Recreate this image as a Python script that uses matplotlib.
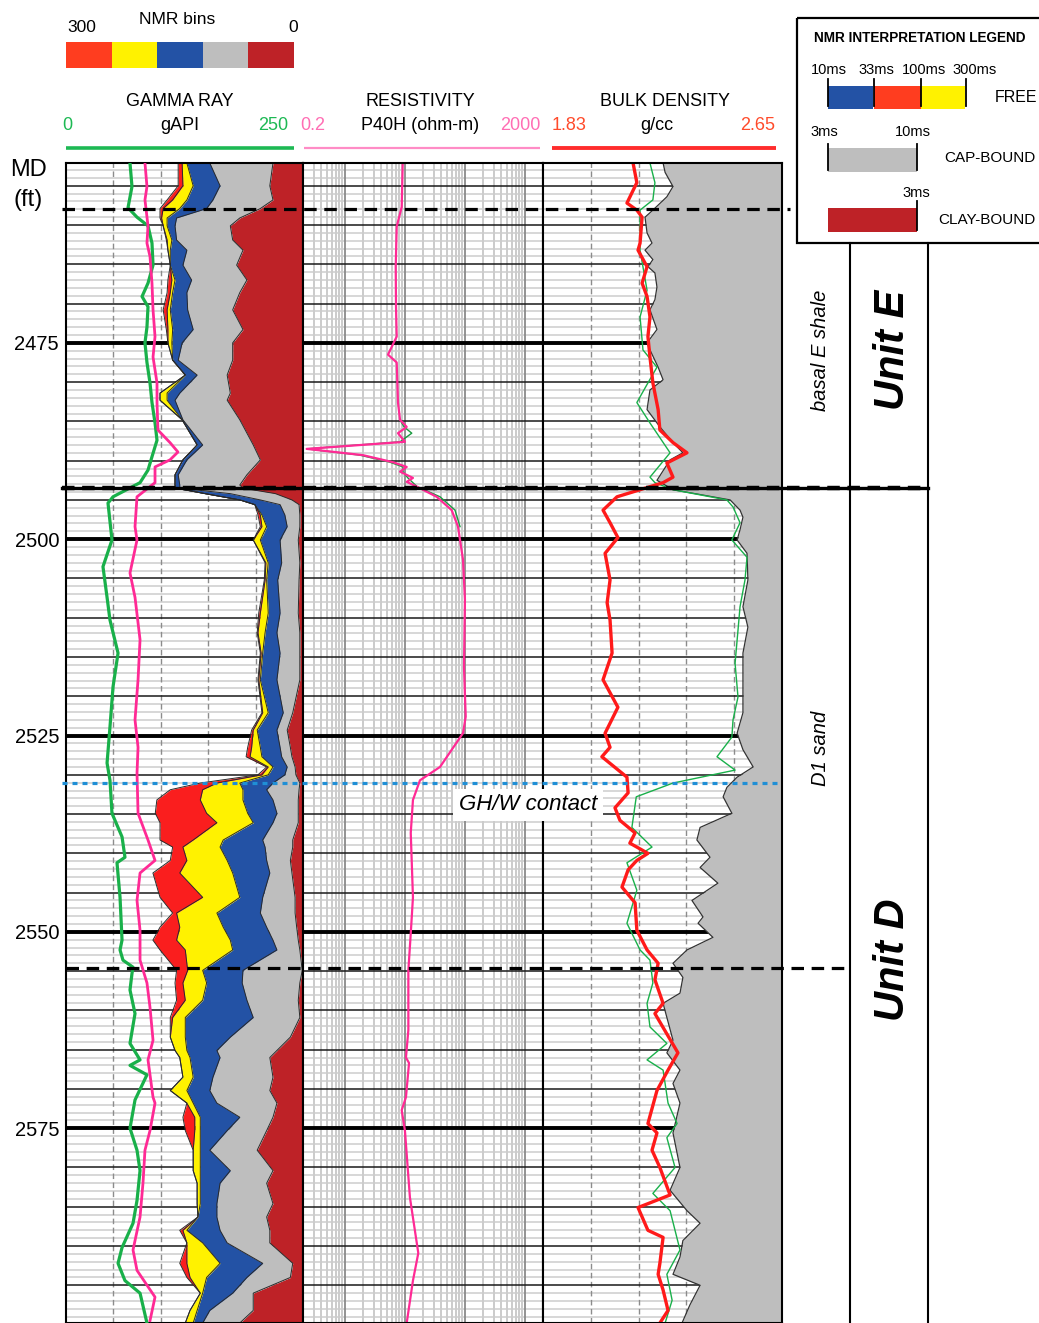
import matplotlib
matplotlib.use('Agg')
import matplotlib.pyplot as plt
from matplotlib.transforms import blended_transform_factory
from matplotlib.lines import Line2D
from matplotlib.patches import Rectangle
from matplotlib import font_manager

plt.rcParams['lines.scale_dashes'] = False
plt.rcParams['font.family'] = ['Liberation Sans', 'DejaVu Sans']
_names = {f.name for f in font_manager.fontManager.ttflist}
HAS_NARROW = 'Liberation Sans Narrow' in _names
NARROW = ['Liberation Sans Narrow', 'Liberation Sans'] if HAS_NARROW else ['Liberation Sans']

# ---------------- data ----------------
TOP_DEPTH, BOT_DEPTH = 2452.1, 2599.8
DEPTH_TICKS = [2475, 2500, 2525, 2550, 2575]
TOP_E_SHALE = 2457.9
TOP_D_UNIT = 2493.5
BASE_D1 = 2554.6
GHW_CONTACT = 2531.05

GR_DEPTH = [2452.1, 2455.1, 2457.8, 2459.0, 2460.1, 2462.3, 2465.1, 2467.4, 2469.1, 2470.4, 2473.0, 2475.0,
            2477.5, 2480.1, 2482.6, 2485.2, 2487.4, 2489.5, 2491.2, 2492.8, 2494.6, 2495.4, 2500.1, 2503.5,
            2507.4, 2510.3, 2514.5, 2518.8, 2523.9, 2528.5, 2530.7, 2534.9, 2537.9, 2540.5, 2541.2, 2545.6,
            2551.05, 2552.3, 2553.6, 2554.5, 2555.3, 2557.4, 2560.4, 2564.2, 2566.3, 2567.0, 2568.2, 2571.4,
            2575.0, 2577.8, 2580.4, 2584.2, 2587.1, 2590.2, 2592.2, 2594.4, 2596.0, 2599.8]
GR = [67.5, 69.6, 65.4, 74.9, 86.5, 90.7, 91.8, 86.5, 80.2, 86.5, 85.4, 83.3,
      85.4, 88.6, 90.7, 93.9, 96.0, 90.7, 86.5, 78.1, 49.6, 44.3, 48.5, 39.0,
      43.3, 46.4, 54.9, 49.6, 46.4, 43.3, 46.4, 48.5, 59.1, 62.2, 53.8, 57.0,
      59.1, 57.0, 60.1, 70.7, 69.6, 67.5, 72.8, 67.5, 78.1, 67.5, 85.4, 72.8,
      67.5, 74.9, 78.1, 74.9, 70.7, 59.1, 54.9, 62.2, 78.1, 85.4]

PINK_DEPTH = [2452.1, 2455.1, 2456.8, 2460.1, 2462.3, 2464.0, 2467.4, 2470.8, 2474.2, 2476.8, 2480.1, 2482.6,
              2486.1, 2487.7, 2488.9, 2489.9, 2490.8, 2492.8, 2494.6, 2498.4, 2500.1, 2504.3, 2507.4, 2512.8,
              2517.9, 2523.0, 2526.5, 2529.8, 2534.9, 2538.3, 2540.9, 2542.5, 2546.0, 2549.8, 2553.6, 2556.5,
              2559.6, 2563.8, 2566.3, 2571.05, 2571.8, 2575.3, 2577.8, 2582.0, 2586.3, 2590.5, 2593.1, 2596.5,
              2599.5]
PINK = [83.3, 85.4, 83.3, 86.5, 85.4, 88.6, 90.7, 91.8, 93.9, 91.8, 96.0, 96.0,
        97.0, 109.7, 118.1, 109.7, 93.9, 93.9, 74.9, 72.8, 74.9, 67.5, 72.8, 78.1,
        76.0, 72.8, 76.0, 74.9, 76.0, 86.5, 93.9, 78.1, 74.9, 78.1, 78.1, 85.4,
        88.6, 91.8, 86.5, 91.8, 93.9, 88.6, 83.3, 81.2, 78.1, 70.7, 74.9, 93.9,
        88.6]

NMR_DEPTH = [2452.1, 2455.0, 2456.8, 2457.9, 2459.1, 2460.1, 2461.9, 2463.2, 2465.1, 2467.0,
             2468.6, 2470.8, 2473.3, 2475.0, 2477.2, 2479.1, 2481.4, 2482.3, 2484.8, 2488.0,
             2489.9, 2491.8, 2493.1, 2493.5, 2494.2, 2495.0, 2495.6, 2496.9, 2498.4, 2500.1,
             2503.0, 2505.2, 2509.4, 2511.9, 2514.5, 2517.9, 2522.1, 2524.3, 2526.5, 2527.7,
             2529.0, 2530.0, 2531.05, 2531.9, 2533.2, 2534.9, 2536.1, 2538.3, 2539.2, 2540.9,
             2542.5, 2545.6, 2547.6, 2549.4, 2551.05, 2552.3, 2554.9, 2556.5, 2558.7, 2560.9,
             2563.4, 2565.1, 2566.0, 2568.5, 2570.2, 2571.8, 2573.6, 2575.3, 2577.8, 2580.4,
             2582.0, 2584.6, 2586.3, 2588.0, 2589.6, 2592.2, 2594.0, 2596.0, 2598.2, 2599.8]
# cumulative NMR bins (scale 300 -> 0, right to left)
NMR_CLAY = [38, 42, 38, 54, 80, 92, 89, 76, 84, 71, 80, 89, 76, 89, 89, 96, 92, 96, 80, 63,
            54, 71, 80, 76, 35, 14, 5, 4, 4, 6, 4, 5, 6, 4, 4, 4, 13, 20, 16, 14,
            10, 9, 4, 5, 6, 6, 6, 13, 13, 16, 14, 10, 10, 8, 6, 4, 1, 4, 6, 4,
            16, 33, 42, 38, 42, 33, 38, 46, 58, 38, 46, 38, 46, 42, 42, 13, 16, 63, 63, 80]
NMR_CAP = [118, 105, 114, 122, 160, 162, 160, 147, 152, 141, 147, 146, 139, 153, 158, 134, 156, 162, 152, 127,
           147, 158, 156, 156, 92, 54, 29, 23, 20, 29, 27, 32, 29, 33, 29, 33, 25, 33, 29, 27,
           20, 23, 38, 46, 38, 33, 38, 51, 48, 46, 42, 51, 54, 46, 38, 33, 76, 77, 71, 63,
           92, 109, 105, 114, 118, 109, 80, 96, 118, 92, 105, 109, 109, 105, 96, 51, 71, 89, 118, 127]
NMR_BLUE = [147, 139, 147, 156, 172, 172, 166, 168, 168, 162, 165, 168, 165, 166, 165, 149, 172, 172, 153, 134,
            152, 162, 162, 161, 124, 80, 61, 52, 46, 54, 44, 46, 44, 48, 51, 54, 44, 58, 54, 52,
            38, 44, 80, 76, 76, 70, 63, 101, 105, 96, 89, 80, 109, 101, 92, 89, 127, 122, 127, 149,
            149, 147, 143, 139, 147, 139, 130, 130, 130, 130, 130, 130, 133, 147, 127, 105, 122, 127, 134, 139]
NMR_YELLOW = [153, 152, 165, 177, 179, 177, 172, 171, 168, 166, 168, 172, 171, 171, 165, 149, 181, 181, 153, 134,
              152, 162, 162, 161, 124, 80, 61, 54, 52, 63, 47, 48, 54, 57, 53, 56, 51, 63, 65, 67,
              44, 52, 109, 127, 130, 122, 109, 139, 152, 147, 156, 127, 160, 156, 160, 149, 146, 152, 149, 165,
              168, 162, 156, 152, 168, 147, 137, 137, 139, 139, 134, 134, 133, 152, 147, 147, 143, 130, 143, 149]
NMR_RED = [158, 158, 172, 181, 181, 177, 173, 171, 168, 171, 172, 177, 173, 171, 165, 149, 181, 181, 153, 134,
           152, 162, 162, 161, 124, 80, 61, 57, 54, 63, 48, 49, 56, 58, 54, 57, 52, 65, 70, 72,
           46, 57, 130, 168, 185, 187, 181, 181, 165, 168, 190, 181, 165, 181, 190, 181, 160, 162, 160, 168,
           168, 162, 156, 152, 168, 147, 152, 149, 139, 139, 134, 134, 133, 156, 147, 156, 147, 130, 143, 149]

RES_DEPTH = [2452.1, 2457.7, 2460.2, 2465.3, 2470.4, 2474.2, 2476.5, 2477.5, 2482.6, 2484.8, 2485.7, 2486.5,
             2487.6, 2488.5, 2489.3, 2490.2, 2490.8, 2491.4, 2492.2, 2492.7, 2493.3, 2494.6, 2496.3, 2498.4,
             2500.1, 2502.6, 2507.7, 2516.3, 2522.6, 2524.7, 2529.0, 2530.7, 2533.2, 2537.4, 2541.2, 2545.6,
             2550.2, 2554.9, 2562.5, 2566.0, 2566.7, 2571.05, 2572.7, 2575.3, 2583.8, 2590.9, 2594.4, 2599.8]
RES = [9.18, 8.83, 7.29, 7.02, 7.1, 7.29, 5.22, 7.29, 7.66, 8.28, 10.7, 7.66,
       10.0, 0.23, 2.0, 6.32, 10.7, 8.28, 13.6, 10.7, 15.7, 33.8, 60.1, 76.6,
       82.8, 92.8, 100.0, 96.4, 103.0, 92.8, 38.4, 17.8, 13.6, 12.5, 13.0, 13.6,
       12.5, 11.4, 11.4, 10.4, 11.7, 10.4, 8.83, 10.0, 12.1, 16.7, 13.6, 10.7]
RES_ALT_DEPTH = [2484.8, 2485.7, 2486.5, 2487.6, 2488.5, 2489.3, 2490.2, 2490.8, 2491.4, 2492.2, 2493.3,
                 2494.6, 2496.3, 2498.4]
RES_ALT = [8.28, 9.64, 13.0, 8.28, 0.233, 1.78, 5.64, 9.28, 9.28, 11.2, 15.9, 38.4, 68.3, 82.8]

RHOB_DEPTH = [2452.1, 2454.6, 2457.2, 2458.1, 2459.0, 2462.3, 2463.2, 2465.3, 2467.4, 2469.1, 2471.7, 2474.2,
              2476.8, 2480.1, 2483.5, 2486.1, 2487.7, 2489.0, 2490.3, 2492.1, 2492.8, 2493.7, 2494.6, 2496.3,
              2497.9, 2499.8, 2501.8, 2505.2, 2508.1, 2510.3, 2514.5, 2517.9, 2521.4, 2524.7, 2526.5, 2527.7,
              2530.3, 2532.3, 2534.2, 2535.8, 2537.4, 2538.7, 2540.0, 2540.9, 2542.1, 2544.3, 2546.3, 2549.8,
              2552.3, 2554.0, 2556.1, 2559.1, 2560.4, 2565.4, 2567.6, 2570.2, 2574.4, 2575.6, 2577.8, 2580.0,
              2583.5, 2585.1, 2588.0, 2588.9, 2592.2, 2593.6, 2595.6, 2598.2, 2599.8]
RHOB = [2.139, 2.152, 2.118, 2.152, 2.170, 2.163, 2.156, 2.187, 2.170, 2.187, 2.197, 2.190,
        2.197, 2.207, 2.225, 2.231, 2.276, 2.324, 2.255, 2.276, 2.242, 2.163, 2.084, 2.036,
        2.060, 2.087, 2.043, 2.060, 2.050, 2.060, 2.067, 2.036, 2.087, 2.043, 2.060, 2.032,
        2.118, 2.122, 2.077, 2.094, 2.146, 2.128, 2.190, 2.152, 2.122, 2.101, 2.146, 2.152,
        2.187, 2.225, 2.214, 2.242, 2.214, 2.293, 2.259, 2.221, 2.190, 2.221, 2.204, 2.231,
        2.266, 2.156, 2.190, 2.242, 2.231, 2.225, 2.242, 2.259, 2.231]

DEN2_DEPTH = [2452.1, 2454.6, 2456.8, 2458.1, 2463.2, 2468.3, 2471.7, 2475.9, 2478.1, 2480.1, 2482.6, 2485.2,
              2489.0, 2492.1, 2492.8, 2493.7, 2495.0, 2495.9, 2497.9, 2500.1, 2502.3, 2505.2, 2508.6, 2511.6,
              2515.8, 2520.1, 2523.0, 2525.2, 2527.7, 2529.4, 2531.05, 2532.8, 2536.7, 2539.2, 2541.2, 2544.7,
              2548.9, 2552.3, 2553.6, 2556.5, 2559.1, 2562.1, 2564.2, 2566.3, 2567.6, 2571.8, 2574.4, 2576.2,
              2580.0, 2583.3, 2585.5, 2590.5, 2593.6, 2596.9, 2599.8]
DEN2 = [2.197, 2.214, 2.207, 2.163, 2.163, 2.187, 2.163, 2.173, 2.221, 2.190, 2.152, 2.197,
        2.266, 2.197, 2.214, 2.276, 2.461, 2.482, 2.506, 2.478, 2.530, 2.523, 2.506, 2.499,
        2.489, 2.499, 2.482, 2.478, 2.427, 2.489, 2.276, 2.150, 2.135, 2.204, 2.118, 2.152,
        2.118, 2.163, 2.197, 2.207, 2.187, 2.197, 2.255, 2.187, 2.242, 2.259, 2.290, 2.255,
        2.283, 2.207, 2.266, 2.300, 2.255, 2.273, 2.249]

DEN3_DEPTH = [2452.1, 2453.3, 2455.1, 2456.4, 2458.1, 2459.0, 2461.0, 2462.3, 2463.2, 2464.4, 2465.3, 2466.1,
              2467.9, 2469.5, 2470.8, 2473.3, 2475.0, 2475.9, 2478.1, 2479.7, 2481.0, 2483.5, 2485.7, 2487.7,
              2489.0, 2489.9, 2492.5, 2493.7, 2495.0, 2496.3, 2497.2, 2498.8, 2500.1, 2501.8, 2505.2, 2508.6,
              2511.2, 2514.5, 2517.9, 2522.1, 2524.7, 2526.8, 2529.0, 2530.3, 2531.6, 2532.8, 2534.9, 2536.7,
              2538.3, 2540.5, 2541.8, 2543.8, 2546.0, 2548.1, 2548.9, 2550.7, 2552.3, 2554.0, 2555.8, 2557.8,
              2559.1, 2560.9, 2563.8, 2565.4, 2567.6, 2569.3, 2571.8, 2575.6, 2580.0, 2582.9, 2585.5, 2587.1,
              2589.3, 2591.4, 2593.6, 2595.0, 2597.5, 2599.8]
DEN3 = [2.242, 2.249, 2.276, 2.255, 2.207, 2.180, 2.187, 2.204, 2.180, 2.207, 2.190, 2.214,
        2.221, 2.214, 2.197, 2.221, 2.187, 2.197, 2.225, 2.242, 2.197, 2.187, 2.231, 2.276,
        2.310, 2.266, 2.221, 2.276, 2.472, 2.506, 2.516, 2.506, 2.496, 2.530, 2.533, 2.516,
        2.533, 2.516, 2.516, 2.516, 2.496, 2.516, 2.551, 2.496, 2.461, 2.448, 2.478, 2.369,
        2.358, 2.403, 2.369, 2.430, 2.341, 2.379, 2.362, 2.413, 2.324, 2.276, 2.310, 2.300,
        2.242, 2.255, 2.276, 2.255, 2.300, 2.276, 2.300, 2.276, 2.300, 2.266, 2.324, 2.369,
        2.310, 2.300, 2.276, 2.369, 2.334, 2.307]

GR_RANGE = (0, 250)
NMR_RANGE = (300, 0)
RES_RANGE = (0.2, 2000)
DEN_RANGE = (1.83, 2.65)

C_RED_BAR = '#FF3D1F'
C_RED = '#FA1E1E'
C_YELLOW = '#FFF200'
C_BLUE = '#2352A5'
C_GRAY = '#BEBEBE'
C_DARKRED = '#BE2227'
C_GREEN = '#19B04A'
C_PINK = '#FF2A95'

# ---------------- figure ----------------
W, H = 1039, 1323
fig = plt.figure(figsize=(W / 100, H / 100), dpi=100)


def frect(x0, x1, y0, y1):
    return [x0 / W, 1 - y1 / H, (x1 - x0) / W, (y1 - y0) / H]


ax1 = fig.add_axes(frect(66, 303, 163, 1323))
ax2 = fig.add_axes(frect(303, 543, 163, 1323))
ax3 = fig.add_axes(frect(543, 782, 163, 1323))


def depth_grid(ax):
    for d in range(2453, 2600):
        if d % 25 == 0:
            ax.axhline(d, color='k', lw=2.8, zorder=1.2)
        elif d % 5 == 0:
            ax.axhline(d, color='#1a1a1a', lw=1.1, zorder=1.1)
        else:
            ax.axhline(d, color='#cdcdcd', lw=1.1, zorder=0.8)


for ax in (ax1, ax2, ax3):
    ax.set_ylim(BOT_DEPTH, TOP_DEPTH)
    for s in ax.spines.values():
        s.set_linewidth(1.5)
        s.set_zorder(10)
    ax.set_xticks([])
    depth_grid(ax)
for ax in (ax2, ax3):
    ax.set_yticks([])
    ax.tick_params(left=False, labelleft=False)

# Track 1 : NMR (base) + GR (twin)
ax1.set_xlim(*NMR_RANGE)
for f in (0.2, 0.4, 0.6, 0.8):
    ax1.plot([f, f], [0, 1], transform=ax1.transAxes, color='#8c8c8c', lw=1.0,
             dashes=(4, 2.5), zorder=0.9)
ax1.set_yticks(DEPTH_TICKS)
ax1.set_yticklabels([str(d) for d in DEPTH_TICKS])
ax1.tick_params(axis='y', length=0, pad=5, labelsize=14.5)

layers = [(0, NMR_CLAY, C_DARKRED), (NMR_CLAY, NMR_CAP, C_GRAY), (NMR_CAP, NMR_BLUE, C_BLUE),
          (NMR_BLUE, NMR_YELLOW, C_YELLOW), (NMR_YELLOW, NMR_RED, C_RED)]
for lo, hi, col in layers:
    ax1.fill_betweenx(NMR_DEPTH, lo, hi, color=col, lw=0, zorder=2)
for cur in (NMR_CLAY, NMR_CAP, NMR_BLUE, NMR_YELLOW, NMR_RED):
    ax1.plot(cur, NMR_DEPTH, color='#2a2a2a', lw=0.7, zorder=3)

ax1g = ax1.twiny()
ax1g.set_xlim(*GR_RANGE)
ax1g.set_xticks([])
for s in ax1g.spines.values():
    s.set_visible(False)
ax1g.plot(GR, GR_DEPTH, color=C_GREEN, lw=2.3, zorder=5)
ax1g.plot(PINK, PINK_DEPTH, color=C_PINK, lw=2.0, zorder=5)

# Track 2 : resistivity (log)
ax2.set_xscale('log')
ax2.set_xlim(*RES_RANGE)
ax2.set_xticks([])
ax2.xaxis.set_minor_locator(matplotlib.ticker.NullLocator())
for dec in (0.1, 1, 10, 100, 1000):
    for k in range(1, 10):
        v = k * dec
        if v < 0.2 * 1.0001 or v > 2000 * 0.9999:
            continue
        if k == 1:
            ax2.axvline(v, color='#8a8a8a', lw=1.3, zorder=0.9)
        else:
            ax2.axvline(v, color='#bdbdbd', lw=1.1, zorder=0.7)
ax2.plot(RES_ALT, RES_ALT_DEPTH, color='#1a9a40', lw=1.0, zorder=4)
ax2.plot(RES, RES_DEPTH, color=C_PINK, lw=1.6, zorder=5)

# Track 3 : density
ax3.set_xlim(*DEN_RANGE)
step = (DEN_RANGE[1] - DEN_RANGE[0]) / 5
for k in range(1, 5):
    ax3.axvline(DEN_RANGE[0] + k * step, color='#8c8c8c', lw=1.0, dashes=(4, 2.5), zorder=0.9)
ax3.fill_betweenx(DEN3_DEPTH, DEN3, DEN_RANGE[1], color=C_GRAY, lw=0, zorder=2)
ax3.plot(DEN3, DEN3_DEPTH, color='#333333', lw=0.9, zorder=3)
ax3.plot(DEN2, DEN2_DEPTH, color=C_GREEN, lw=1.0, zorder=4)
ax3.plot(RHOB, RHOB_DEPTH, color='#FF1A1A', lw=2.4, zorder=5)

# ---------------- marker lines ----------------
tr = blended_transform_factory(fig.transFigure, ax1.transData)
fig.add_artist(Line2D([62 / W, 790 / W], [TOP_E_SHALE] * 2, transform=tr, color='k', lw=2.3,
                      dashes=(9, 5.5), zorder=3))
fig.add_artist(Line2D([62 / W, 928 / W], [TOP_D_UNIT] * 2, transform=tr, color='k', lw=2.4, zorder=3))
fig.add_artist(Line2D([62 / W, 928 / W], [TOP_D_UNIT] * 2, transform=tr, color='k', lw=3.2,
                      dashes=(9, 5.5), zorder=3))
fig.add_artist(Line2D([66 / W, 850 / W], [BASE_D1] * 2, transform=tr, color='k', lw=2.3,
                      dashes=(9, 5.5), zorder=3))
fig.add_artist(Line2D([62 / W, 782 / W], [GHW_CONTACT] * 2, transform=tr, color='#1F8FD6', lw=2.3,
                      dashes=(3.6, 3.6), zorder=3))

# ---------------- overlay (header, legend, columns) ----------------
ov = fig.add_axes([0, 0, 1, 1], zorder=5)
ov.set_xlim(0, W)
ov.set_ylim(H, 0)
ov.axis('off')
ov.patch.set_visible(False)

# NMR bins colour bar
bar_cols = [C_RED_BAR, C_YELLOW, C_BLUE, C_GRAY, C_DARKRED]
bw = (294 - 66) / 5
for i, c in enumerate(bar_cols):
    ov.add_patch(Rectangle((66 + i * bw, 42), bw, 26, color=c, lw=0))
ov.text(82, 28, '300', ha='center', va='center', fontsize=12.5)
ov.text(177, 20, 'NMR bins', ha='center', va='center', fontsize=12.5)
ov.text(293, 28, '0', ha='center', va='center', fontsize=12.5)

HF = 13
ov.text(180, 101, 'GAMMA RAY', ha='center', va='center', fontsize=HF)
ov.text(67, 125, '0', ha='center', va='center', fontsize=HF, color='#1DB954')
ov.text(180, 125, 'gAPI', ha='center', va='center', fontsize=HF)
ov.text(273, 125, '250', ha='center', va='center', fontsize=HF, color='#1DB954')
ov.plot([66, 294], [148, 148], color='#1DB954', lw=2.6, solid_capstyle='butt')

ov.text(420, 101, 'RESISTIVITY', ha='center', va='center', fontsize=HF)
ov.text(313, 125, '0.2', ha='center', va='center', fontsize=HF, color='#FF6EB4')
ov.text(420, 125, 'P40H (ohm-m)', ha='center', va='center', fontsize=HF)
ov.text(520, 125, '2000', ha='center', va='center', fontsize=HF, color='#FF6EB4')
ov.plot([304, 540], [148, 148], color='#FF8CC6', lw=1.6, solid_capstyle='butt')

ov.text(665, 101, 'BULK DENSITY', ha='center', va='center', fontsize=HF)
ov.text(569, 125, '1.83', ha='center', va='center', fontsize=HF, color='#FF4B2B')
ov.text(657, 125, 'g/cc', ha='center', va='center', fontsize=HF)
ov.text(758, 125, '2.65', ha='center', va='center', fontsize=HF, color='#FF4B2B')
ov.plot([552, 776], [148, 148], color='#FF2D2D', lw=2.8, solid_capstyle='butt')

ov.text(28, 170, 'MD', ha='center', va='center', fontsize=17)
ov.text(28, 200, '(ft)', ha='center', va='center', fontsize=17)

# Legend box
ov.add_patch(Rectangle((797, 18), 260, 225, fill=False, ec='k', lw=1.6))
ov.text(814, 38, 'NMR INTERPRETATION LEGEND', ha='left', va='center', fontsize=11.5 if HAS_NARROW else 9.8,
        fontweight='bold', family=NARROW)
LF = 10.5
for x, s in zip([829, 876, 924, 975], ['10ms', '33ms', '100ms', '300ms']):
    ov.text(x, 70, s, ha='center', va='center', fontsize=LF)
ov.add_patch(Rectangle((828, 86), 45, 23, color=C_BLUE, lw=0))
ov.add_patch(Rectangle((874, 86), 47, 23, color=C_RED_BAR, lw=0))
ov.add_patch(Rectangle((921, 86), 44, 23, color=C_YELLOW, lw=0))
for x in [828, 874, 921, 966]:
    ov.plot([x, x], [79, 106], color='k', lw=1.3)
ov.text(1016, 97, 'FREE', ha='center', va='center', fontsize=11.5)

ov.text(824, 132, '3ms', ha='center', va='center', fontsize=LF)
ov.text(913, 132, '10ms', ha='center', va='center', fontsize=LF)
ov.add_patch(Rectangle((828, 148), 89, 24, color=C_GRAY, lw=0))
for x in [828, 917]:
    ov.plot([x, x], [144, 170], color='k', lw=1.3)
ov.text(990, 158, 'CAP-BOUND', ha='center', va='center', fontsize=11)

ov.text(916, 193, '3ms', ha='center', va='center', fontsize=LF)
ov.add_patch(Rectangle((828, 208), 89, 24, color=C_DARKRED, lw=0))
ov.plot([917, 917], [201, 230], color='k', lw=1.3)
ov.text(987, 220, 'CLAY-BOUND', ha='center', va='center', fontsize=11)

# zone columns
ov.plot([850, 850], [243, H], color='k', lw=1.5)
ov.plot([928, 928], [243, H], color='k', lw=1.5)
ZS = 17 if HAS_NARROW else 14.5
US = 36 if HAS_NARROW else 30
ov.text(820, 350, 'basal E shale', rotation=90, ha='center', va='center', fontsize=ZS,
        style='italic', family=NARROW)
ov.text(820, 748, 'D1 sand', rotation=90, ha='center', va='center', fontsize=ZS,
        style='italic', family=NARROW)
ov.text(893, 350, 'Unit E', rotation=90, ha='center', va='center', fontsize=US,
        style='italic', fontweight='bold', family=NARROW)
ov.text(893, 960, 'Unit D', rotation=90, ha='center', va='center', fontsize=US,
        style='italic', fontweight='bold', family=NARROW)

ov.text(528, 805, 'GH/W contact', ha='center', va='center', fontsize=16, style='italic',
        bbox=dict(boxstyle='square,pad=0.25', fc='white', ec='none'))

fig.savefig('out.png', dpi=100)
